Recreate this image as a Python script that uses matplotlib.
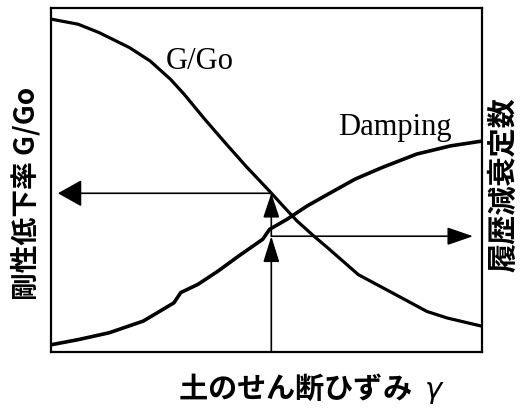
import matplotlib.pyplot as plt

# curve data (normalised strain axis 0..1, normalised value axis 0..1)
g_x = [0, 0.063, 0.111, 0.182, 0.230, 0.277, 0.309, 0.357, 0.404, 0.452, 0.507,
       0.539, 0.571, 0.610, 0.642, 0.713, 0.792, 0.872, 0.919, 1.0]
g_y = [0.969, 0.954, 0.930, 0.886, 0.847, 0.794, 0.750, 0.677, 0.609, 0.541, 0.468,
       0.424, 0.381, 0.337, 0.303, 0.225, 0.172, 0.118, 0.099, 0.075]

d_x = [0, 0.063, 0.135, 0.214, 0.285, 0.301, 0.341, 0.388, 0.436, 0.491, 0.507,
       0.547, 0.594, 0.642, 0.705, 0.768, 0.848, 0.927, 1.0]
d_y = [0.021, 0.036, 0.056, 0.090, 0.143, 0.173, 0.197, 0.236, 0.280, 0.328, 0.357,
       0.386, 0.425, 0.459, 0.503, 0.537, 0.576, 0.600, 0.614]

# reading arrows
strain_x = 0.511
g_read = 0.462
d_read = 0.337

fig = plt.figure(figsize=(5.29, 4.10), dpi=100)
ax = fig.add_axes([0.0964, 0.139, 0.815, 0.838])

ax.plot(g_x, g_y, color='black', lw=2.3)
ax.plot(d_x, d_y, color='black', lw=2.6)

def arrow(x0, y0, x1, y1, hl, hw):
    ax.annotate('', xy=(x1, y1), xytext=(x0, y0),
                arrowprops=dict(arrowstyle=f'-|>,head_length={hl},head_width={hw}',
                                color='black', lw=1.2, shrinkA=0, shrinkB=0))

arrow(strain_x, 0, strain_x, d_read, 1.6, 0.5)
arrow(strain_x, d_read, strain_x, g_read, 1.5, 0.5)
arrow(strain_x, g_read, 0.016, g_read, 1.5, 0.84)
arrow(strain_x, d_read, 0.979, d_read, 1.6, 0.55)

ax.text(0.345, 0.826, 'G/Go', family='Liberation Serif', fontsize=22,
        ha='center', va='baseline')
ax.text(0.798, 0.634, 'Damping', family='Liberation Serif', fontsize=22,
        ha='center', va='baseline')

ax.set_xlim(0, 1)
ax.set_ylim(0, 1)
ax.set_xticks([])
ax.set_yticks([])
for s in ax.spines.values():
    s.set_linewidth(1.6)

cjk = ['Noto Sans CJK JP', 'DejaVu Sans']
fig.text(26 / 529, 1 - 193 / 410, '剛性低下率 G/Go', family=cjk, weight='bold',
         fontsize=20, rotation=90, ha='center', va='center')
fig.text(503 / 529, 1 - 185 / 410, '履歴減衰定数', family=cjk, weight='bold',
         fontsize=21, rotation=90, ha='center', va='center')
fig.text(312 / 529, 1 - 389 / 410, '土のせん断ひずみ  $\\gamma$', family=cjk,
         weight='bold', fontsize=21, ha='center', va='center')

fig.savefig('out.png', dpi=100)
